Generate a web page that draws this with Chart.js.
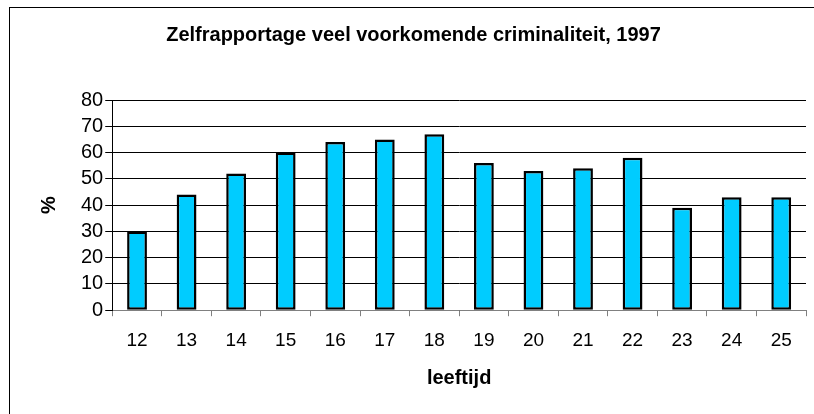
<!DOCTYPE html>
<html>
<head>
<meta charset="utf-8">
<script src="https://cdn.jsdelivr.net/npm/chart.js@4.4.0/dist/chart.umd.min.js"></script>
<style>
  body { margin: 0; background: #fff; overflow: hidden; }
  #frame { position: absolute; left: 9px; top: 7px; width: 900px; height: 500px; border: 1px solid #000; }
  #wrap { position: absolute; left: 0; top: 0; width: 814px; height: 414px; }
</style>
</head>
<body>
<div id="frame"></div>
<div id="wrap"><canvas id="myChart" width="814" height="414"></canvas></div>
<script>
// leeftijd (age) and % self reported offences
const ages = ['12', '13', '14', '15', '16', '17', '18', '19', '20', '21', '22', '23', '24', '25'];
const percentages = [30, 44, 52, 60, 64, 65, 67, 56, 53, 54, 58, 39, 43, 43];

const fontFamily = 'Arial, "Liberation Sans", sans-serif';

var ctx = document.getElementById('myChart').getContext('2d');

var myChart = new Chart(ctx, {
    type: 'bar',
    data: {
        labels: ages,
        datasets: [
            {
                label: '%',
                data: percentages,
                backgroundColor: '#00CCFF',
                borderColor: '#000000',
                borderWidth: 2.5,
                borderSkipped: false,
                categoryPercentage: 1,
                barPercentage: 0.4
            }
        ]
    },
    options: {
        responsive: false,
        animation: false,
        layout: {
            padding: { left: 21, right: 8, top: 8, bottom: 24 }
        },
        plugins: {
            legend: { display: false },
            tooltip: { enabled: false },
            title: {
                display: true,
                text: 'Zelfrapportage veel voorkomende criminaliteit, 1997',
                color: '#000',
                font: { family: fontFamily, size: 20, weight: 'bold' },
                padding: { top: 15, bottom: 53 }
            }
        },
        scales: {
            x: {
                grid: {
                    display: true,
                    offset: true,
                    drawOnChartArea: false,
                    drawTicks: true,
                    tickLength: 6,
                    color: '#808080'
                },
                border: { display: true, color: '#808080', width: 1 },
                ticks: {
                    color: '#000',
                    font: { family: fontFamily, size: 19 },
                    padding: 13,
                    maxRotation: 0
                },
                title: {
                    display: true,
                    text: 'leeftijd',
                    color: '#000',
                    font: { family: fontFamily, size: 20, weight: 'bold' },
                    padding: { top: 1, bottom: 0 }
                }
            },
            y: {
                min: 0,
                max: 80,
                grid: {
                    color: '#000',
                    lineWidth: 1,
                    drawTicks: true,
                    tickLength: 7
                },
                border: { display: true, color: '#000', width: 1 },
                ticks: {
                    stepSize: 10,
                    autoSkip: false,
                    color: '#000',
                    font: { family: fontFamily, size: 20 },
                    padding: 2
                },
                title: {
                    display: true,
                    text: '%',
                    color: '#000',
                    font: { family: fontFamily, size: 20, weight: 'bold' },
                    padding: { top: 16, bottom: 18 }
                }
            }
        }
    }
});
</script>
</body>
</html>
